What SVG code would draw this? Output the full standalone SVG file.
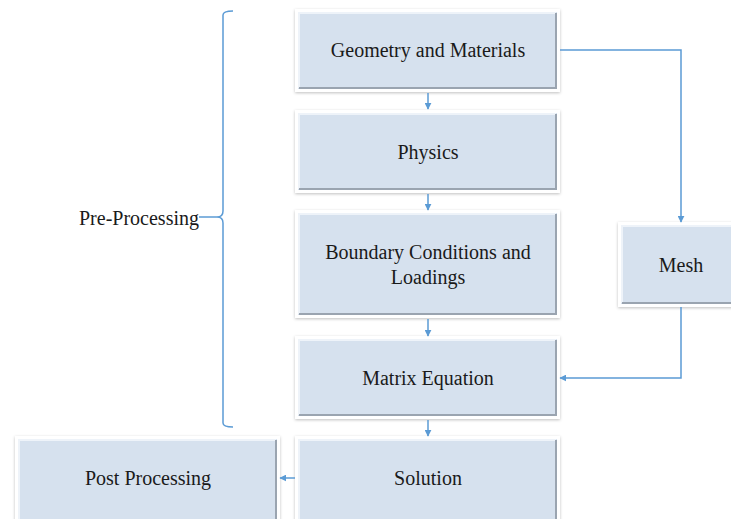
<svg xmlns="http://www.w3.org/2000/svg" width="731" height="519" viewBox="0 0 731 519">
<defs>
<filter id="sh" x="-10%" y="-10%" width="120%" height="130%">
<feDropShadow dx="0" dy="1" stdDeviation="1.5" flood-color="#000" flood-opacity="0.25"/>
</filter>
<marker id="ah" viewBox="0 0 10 10" refX="9" refY="5" markerWidth="7" markerHeight="7" markerUnits="userSpaceOnUse" orient="auto">
<path d="M0,0 L10,5 L0,10 z" fill="#5b9bd5"/>
</marker>
</defs>
<style>
.outer{fill:#ffffff;filter:url(#sh)}
.inner{fill:#d6e1ee}
.hi{stroke:#eef3f9;stroke-width:2;fill:none}
.lo{stroke:#9aa4b0;stroke-width:2;fill:none}
.lbl{font-family:"Liberation Serif","Times New Roman",serif;font-size:20px;fill:#1a1a1a;text-anchor:middle}
.con{stroke:#5b9bd5;stroke-width:1.5;fill:none}
</style>
<rect width="731" height="519" fill="#ffffff"/>

<g id="geometry">
<rect class="outer" x="295" y="9" width="265" height="83"/>
<rect class="inner" x="298" y="12" width="259" height="77"/>
<path class="hi" d="M299,88 V13 H556"/>
<path class="lo" d="M299,88 H556 V13"/>
<text class="lbl" x="428" y="57">Geometry and Materials</text>
</g>

<g id="physics">
<rect class="outer" x="295" y="110" width="265" height="83"/>
<rect class="inner" x="298" y="113" width="259" height="77"/>
<path class="hi" d="M299,189 V114 H556"/>
<path class="lo" d="M299,189 H556 V114"/>
<text class="lbl" x="428" y="159">Physics</text>
</g>

<g id="boundary">
<rect class="outer" x="295" y="210" width="265" height="108"/>
<rect class="inner" x="298" y="213" width="259" height="102"/>
<path class="hi" d="M299,314 V214 H556"/>
<path class="lo" d="M299,314 H556 V214"/>
<text class="lbl" x="428" y="259">Boundary Conditions and</text>
<text class="lbl" x="428" y="284">Loadings</text>
</g>

<g id="mesh">
<rect class="outer" x="618" y="222" width="120" height="85"/>
<rect class="inner" x="621" y="225" width="120" height="79"/>
<path class="hi" d="M622,303 V226 H740"/>
<path class="lo" d="M622,303 H740"/>
<text class="lbl" x="681" y="272">Mesh</text>
</g>

<g id="matrix">
<rect class="outer" x="295" y="336" width="265" height="83"/>
<rect class="inner" x="298" y="339" width="259" height="77"/>
<path class="hi" d="M299,415 V340 H556"/>
<path class="lo" d="M299,415 H556 V340"/>
<text class="lbl" x="428" y="385">Matrix Equation</text>
</g>

<g id="solution">
<rect class="outer" x="295" y="436" width="265" height="90"/>
<rect class="inner" x="298" y="439" width="259" height="84"/>
<path class="hi" d="M299,525 V440 H556"/>
<path class="lo" d="M556,440 V525"/>
<text class="lbl" x="428" y="485">Solution</text>
</g>

<g id="post">
<rect class="outer" x="15" y="436" width="265" height="90"/>
<rect class="inner" x="18" y="439" width="259" height="84"/>
<path class="hi" d="M19,525 V440 H276"/>
<path class="lo" d="M276,440 V525"/>
<text class="lbl" x="148" y="485">Post Processing</text>
</g>

<g id="preprocessing">
<path class="con" d="M233,11 Q223,11 223,15 V211 Q223,217 217,217 Q223,217 223,223 V423 Q223,427 233,427"/>
<line class="con" x1="199" y1="217" x2="217" y2="217"/>
<text class="lbl" x="139" y="225">Pre-Processing</text>
</g>

<g id="connectors">
<line class="con" x1="428" y1="93" x2="428" y2="109" marker-end="url(#ah)"/>
<line class="con" x1="428" y1="194" x2="428" y2="210" marker-end="url(#ah)"/>
<line class="con" x1="428" y1="319" x2="428" y2="336" marker-end="url(#ah)"/>
<line class="con" x1="428" y1="420" x2="428" y2="436" marker-end="url(#ah)"/>
<polyline class="con" points="560,50 681,50 681,222" marker-end="url(#ah)"/>
<polyline class="con" points="681,307 681,378 560,378" marker-end="url(#ah)"/>
<line class="con" x1="295" y1="478" x2="280" y2="478" marker-end="url(#ah)"/>
</g>
</svg>
